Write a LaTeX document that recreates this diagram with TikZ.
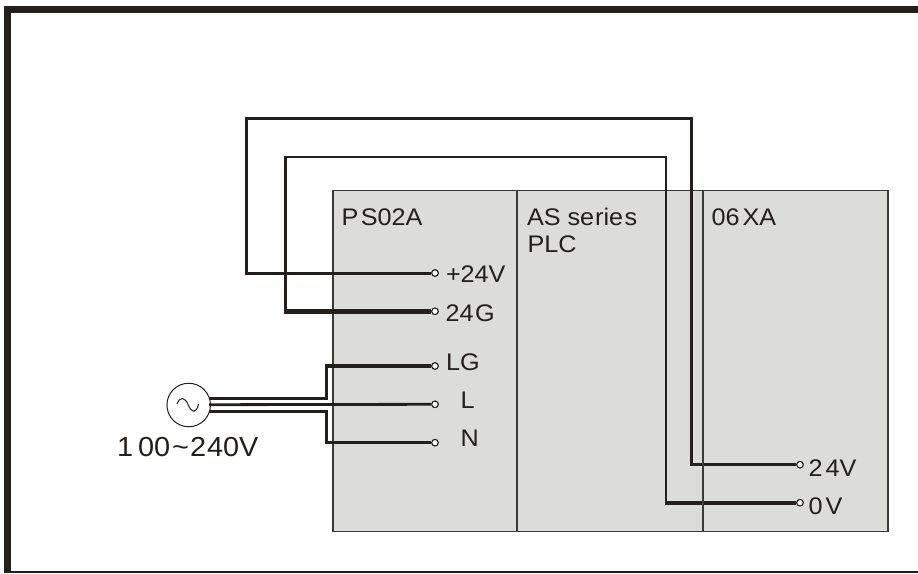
\documentclass[tikz,border=0pt]{standalone}
\usepackage{fontspec}
\setmainfont[FakeStretch=1.05]{Liberation Sans}
\definecolor{ink}{HTML}{231F1C}
\definecolor{panel}{HTML}{DCDCDB}
\definecolor{edge}{HTML}{3A3A38}
\tikzset{
  x=1pt,y=-1pt,
  wire/.style={draw=ink,line width=#1,line join=miter,line cap=butt},
  wire/.default=2.2pt,
  term/.style={circle,draw=ink,fill=white,line width=1pt,minimum size=6.5pt,inner sep=0pt},
  lbl/.style={anchor=base west,inner sep=0pt,outer sep=0pt,text=ink,font=\fontsize{24}{28}\selectfont},
}
\begin{document}
\begin{tikzpicture}
\useasboundingbox (0,0) rectangle (918,573);
% outer frame (open on the right)
\fill[ink] (3.5,6) rectangle (918,13);
\fill[ink] (3.5,6) rectangle (10.5,573);
\fill[ink] (3.5,571) rectangle (918,573);
% panels
\draw[draw=edge,fill=panel,line width=1.3pt] (333,190.5) rectangle (888,531.7);
\draw[draw=edge,line width=1.3pt] (517,190.5) -- (517,531.7);
% terminals
\node[term] (tP) at (435,273) {};
\node[term] (tG) at (435,311.3) {};
\node[term] (tLG) at (435,366) {};
\node[term] (tL) at (435,404.3) {};
\node[term] (tN) at (435,442.7) {};
\node[term] (t24) at (800,464.7) {};
\node[term] (t0) at (800,502.7) {};
% source
\node[circle,draw=ink,line width=1pt,fill=white,minimum size=43.5pt,inner sep=0pt] (src) at (188.7,405) {};
\draw[ink,line width=1pt] (177,404) .. controls (180,396) and (185,397) .. (188.3,405) .. controls (191.5,413) and (196.5,414) .. (198.5,404);
\coordinate (sA) at (209,398.7);
\coordinate (sB) at (209,404.7);
\coordinate (sC) at (209,411.3);
% wires
\draw[wire=3pt] (tP.west) -- (246.9,273) -- (246.9,118.7) -- (691,118.7) -- (691,464.7) -- (t24.west);
\draw[wire=2.8pt] (285.8,311.3) -- (285.8,157) -- (666,157) -- (666,502.7);
\draw[wire=4.4pt] (tG.west) -- (284.4,311.3);
\draw[wire=4.4pt] (t0.west) -- (664.6,502.7);
\draw[wire=3.4pt] (tLG.west) -- (326.7,366) -- (326.7,398.7) -- (sA);
\draw[wire=2.8pt] (tL.west) -- (sB);
\draw[wire=3pt] (tN.west) -- (326.7,442.7) -- (326.7,411.3) -- (sC);
\draw[draw=edge,line width=1.3pt] (703,190.5) -- (703,531.7);
% terminals above wires
\node[term] at (tP) {};
\node[term] at (tG) {};
\node[term] at (tLG) {};
\node[term] at (tL) {};
\node[term] at (tN) {};
\node[term] at (t24) {};
\node[term] at (t0) {};
% labels
\node[lbl] (lA) at (341.5,225) {P\kern2.5pt S02A};
\node[lbl] (lB) at (527,225) {AS se\kern1pt rie\kern1.5pt s};
\node[lbl] (lC) at (527.5,252) {PLC};
\node[lbl] (lD) at (711.5,225) {06\kern3pt XA};
\node[lbl] (lE) at (446,282.7) {+24V};
\node[lbl] (lF) at (445.5,321) {24\kern1.5pt G};
\node[lbl] (lG) at (446,370.7) {LG};
\node[lbl] (lH) at (460.5,408.7) {L};
\node[lbl] (lI) at (460.5,446.7) {N};
\node[lbl,font=\fontsize{27.5}{31}\selectfont] (lJ) at (117,456.7) {1\kern5pt 00\kern2pt\char`\~\kern1pt 2\kern1pt 40V};
\node[lbl] (lK) at (808.5,476) {2\kern3pt 4V};
\node[lbl] (lL) at (808.5,514) {0\kern3pt V};
\end{tikzpicture}
\end{document}
